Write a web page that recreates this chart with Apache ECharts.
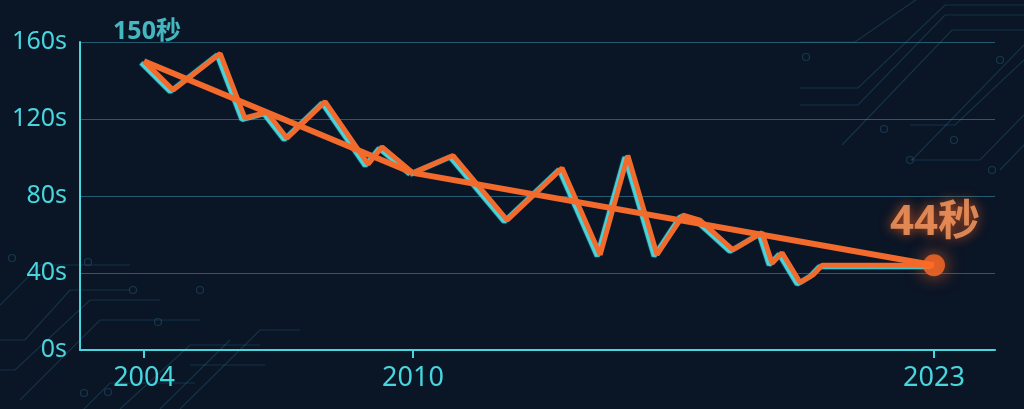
<!DOCTYPE html>
<html><head><meta charset="utf-8">
<script src="https://cdn.jsdelivr.net/npm/echarts@6/dist/echarts.min.js"></script>
<style>html,body{margin:0;padding:0;background:#0a1526;}#c{width:1024px;height:409px;}</style>
</head><body><div id="c"></div>
<script>
// Zig-zag lap times, x in fractional years
const zigYears = [2004.0, 2004.65, 2005.7, 2006.25, 2006.74, 2007.19, 2008.04, 2009.0, 2009.31, 2010.0, 2011.0, 2012.35, 2013.72, 2014.67, 2015.36, 2016.09, 2016.74, 2017.16, 2017.98, 2018.71, 2018.96, 2019.21, 2019.66, 2019.98, 2020.21, 2023.0];
const zigValues = [150, 135, 154, 120.5, 123.5, 110, 129, 96.5, 105.5, 92, 101, 67.5, 94.5, 49.5, 101, 49.5, 70, 67.5, 52, 61, 45, 50.5, 35, 39, 44, 44];
// Trend line
const trendYears = [2004, 2010, 2023];
const trendValues = [150, 92, 44];
// End labels
const labelYears = [2004, 2023];
const labelValues = [150, 44];
const endLabels = ['150秒', '44秒'];
const xTicksLeft = [2004, 2010];
const xTicksRight = [2023];

const FONT = '"Noto Sans", "Noto Sans CJK SC", sans-serif';
const CYAN = '#48d6de';
const ORANGE = '#f26a2c';

const chart = echarts.init(document.getElementById('c'), null, {renderer: 'canvas'});

// decorative circuit traces (background only)
const traceStyle = {stroke: 'rgba(45,120,150,0.30)', lineWidth: 1.2, fill: null};
const dotStyle = {fill: 'none', stroke: 'rgba(45,120,150,0.35)', lineWidth: 1.2};
const deco = [
  [[0,305],[40,265],[130,265]], [[0,340],[25,340],[70,290],[130,290]], [[0,370],[15,370],[90,300],[160,300]],
  [[20,400],[100,320],[200,320]], [[0,413],[80,413],[110,383],[195,383]], [[120,409],[190,345],[260,345]],
  [[160,409],[230,340]], [[180,409],[260,330],[300,330]], [[190,365],[265,365]],
  [[800,42],[855,42],[930,-10]], [[800,88],[858,88],[945,5],[1024,5]], [[800,105],[858,105],[945,15],[1024,15]],
  [[842,145],[952,30],[1024,30]], [[910,125],[955,125],[1024,60]], [[912,160],[1024,45]],
  [[910,160],[980,160],[1024,115]], [[1000,170],[1024,145]]
];
const graphics = [];
deco.forEach(p => graphics.push({type: 'polyline', silent: true, z: -10, shape: {points: p}, style: traceStyle}));
[[12,258],[88,262],[133,290],[158,322],[200,290],[108,392],[84,393],[806,57],[884,129],[1000,60],[992,170],[954,140],[910,160]]
  .forEach(c => graphics.push({type: 'circle', silent: true, z: -10, shape: {cx: c[0], cy: c[1], r: 3.5}, style: dotStyle}));

function xAxisCfg(idx, min, max, ticks) {
  return {
    type: 'value', gridIndex: idx, min: min, max: max,
    axisLine: {show: true, lineStyle: {color: CYAN, width: 2}},
    axisTick: {show: true, customValues: ticks, length: 8, lineStyle: {color: CYAN, width: 2}},
    axisLabel: {show: true, customValues: ticks, color: CYAN, fontSize: 27, fontFamily: FONT, margin: 15,
      formatter: v => String(Math.round(v))},
    splitLine: {show: false}
  };
}
function yAxisCfg(idx, showAxis) {
  return {
    type: 'value', gridIndex: idx, min: 0, max: 160, interval: 40,
    axisLine: {show: showAxis, lineStyle: {color: CYAN, width: 2}},
    axisTick: {show: false},
    axisLabel: {show: showAxis, color: CYAN, fontSize: 25, fontFamily: FONT, margin: 13, formatter: v => v + 's'},
    splitLine: {show: true, lineStyle: {color: 'rgba(58,150,175,0.55)', width: 1.2}}
  };
}
const zigLine = {color: ORANGE, width: 5, shadowColor: CYAN, shadowBlur: 1, shadowOffsetX: -3, shadowOffsetY: 1.5};
const pairs = (xs, ys) => xs.map((x, i) => [x, ys[i]]);
const zig = pairs(zigYears, zigValues);
const trend = pairs(trendYears, trendValues);

const option = {
  backgroundColor: '#0a1526',
  animation: false,
  graphic: graphics,
  grid: [
    {left: 80, width: 333, top: 42, bottom: 59, containLabel: false, outerBoundsMode: 'none'},
    {left: 413, right: 29, top: 42, bottom: 59, containLabel: false, outerBoundsMode: 'none'}
  ],
  xAxis: [xAxisCfg(0, 2002.572, 2010, xTicksLeft), xAxisCfg(1, 2010, 2024.522, xTicksRight)],
  yAxis: [yAxisCfg(0, true), yAxisCfg(1, false)],
  series: [
    {type: 'line', xAxisIndex: 0, yAxisIndex: 0, clip: false, symbol: 'none', z: 3,
      data: zig.filter(p => p[0] <= 2010), lineStyle: zigLine},
    {type: 'line', xAxisIndex: 1, yAxisIndex: 1, clip: false, symbol: 'none', z: 3,
      data: zig.filter(p => p[0] >= 2010), lineStyle: zigLine},
    {type: 'line', xAxisIndex: 0, yAxisIndex: 0, clip: false, symbol: 'none', z: 4,
      data: trend.filter(p => p[0] <= 2010), lineStyle: {color: ORANGE, width: 6}},
    {type: 'line', xAxisIndex: 1, yAxisIndex: 1, clip: false, symbol: 'none', z: 4,
      data: trend.filter(p => p[0] >= 2010), lineStyle: {color: ORANGE, width: 6}},
    {type: 'scatter', xAxisIndex: 0, yAxisIndex: 0, z: 6,
      data: [{
        value: [labelYears[0], labelValues[0]], symbolSize: 1, itemStyle: {color: 'rgba(0,0,0,0)'},
        label: {show: true, position: 'top', distance: 16, offset: [3, 0], formatter: endLabels[0],
          color: '#52e0e8', fontSize: 25, fontWeight: 'bold', fontFamily: FONT}
      }]},
    {type: 'scatter', xAxisIndex: 1, yAxisIndex: 1, z: 6,
      data: [{
        value: [labelYears[1], labelValues[1]], symbolSize: 22,
        itemStyle: {color: '#ff6a24', shadowColor: 'rgba(255,110,40,0.9)', shadowBlur: 18},
        label: {show: true, position: 'top', distance: 10, offset: [1, 0], formatter: endLabels[1],
          color: '#ff9d62', fontSize: 42, fontWeight: 'bold', fontFamily: FONT,
          textShadowColor: 'rgba(255,100,30,0.9)', textShadowBlur: 12}
      }]}
  ]
};
chart.setOption(option);
</script></body></html>
